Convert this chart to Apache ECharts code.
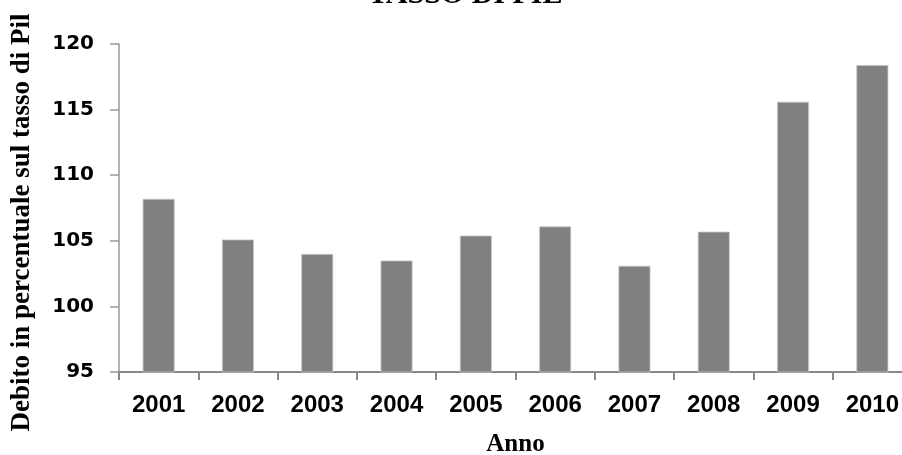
<!DOCTYPE html>
<html>
<head>
<meta charset="utf-8">
<script src="https://cdn.jsdelivr.net/npm/echarts@6/dist/echarts.min.js"></script>
<style>
  html, body { margin: 0; padding: 0; background: #ffffff; }
  #chart { width: 902px; height: 455px; }
</style>
</head>
<body>
<div id="chart"></div>
<script>
// Debito pubblico in percentuale sul PIL, 2001-2010
const anni = ['2001', '2002', '2003', '2004', '2005', '2006', '2007', '2008', '2009', '2010'];
const debito = [108.2, 105.1, 104.0, 103.5, 105.4, 106.1, 103.1, 105.7, 115.6, 118.4];
const yMin = 95;
const yMax = 120;
const yStep = 5;

const chart = echarts.init(document.getElementById('chart'), null, { renderer: 'canvas' });

chart.setOption({
  backgroundColor: '#ffffff',
  animation: false,
  title: {
    text: 'TASSO DI PIL',
    left: 363,
    top: -25,
    textStyle: {
      fontFamily: 'Liberation Serif',
      fontWeight: 'bold',
      fontSize: 30,
      color: '#000000'
    }
  },
  grid: {
    left: 119,
    top: 44,
    right: -10,
    bottom: 83,
    containLabel: false,
    outerBoundsMode: 'none'
  },
  xAxis: {
    type: 'category',
    data: anni,
    name: 'Anno',
    nameLocation: 'middle',
    nameGap: 60,
    nameTextStyle: {
      fontFamily: 'Liberation Serif',
      fontWeight: 'bold',
      fontSize: 25,
      color: '#000000'
    },
    axisLine: { lineStyle: { color: '#888888', width: 2 } },
    axisTick: { show: true, length: 8, alignWithLabel: false, lineStyle: { color: '#888888', width: 2 } },
    axisLabel: {
      margin: 21,
      fontFamily: 'Liberation Sans',
      fontWeight: 'bold',
      fontSize: 24,
      color: '#000000'
    }
  },
  yAxis: {
    type: 'value',
    min: yMin,
    max: yMax,
    interval: yStep,
    name: 'Debito in percentuale sul tasso di Pil',
    nameLocation: 'middle',
    nameGap: 83,
    nameRotate: 90,
    nameTextStyle: {
      fontFamily: 'Liberation Serif',
      fontWeight: 'bold',
      fontSize: 27,
      color: '#000000',
      padding: [0, 29, 0, 0]
    },
    axisLine: { show: true, lineStyle: { color: '#999999', width: 1.5 } },
    axisTick: { show: true, length: 9, lineStyle: { color: '#999999', width: 1.5 } },
    splitLine: { show: false },
    axisLabel: {
      margin: 25,
      fontFamily: 'DejaVu Sans',
      fontWeight: 'bold',
      fontSize: 20,
      color: '#000000'
    }
  },
  series: [{
    type: 'bar',
    data: debito,
    barWidth: 32,
    itemStyle: {
      color: '#808080',
      borderColor: '#c8c8c8',
      borderWidth: 0.8
    }
  }]
});
</script>
</body>
</html>
